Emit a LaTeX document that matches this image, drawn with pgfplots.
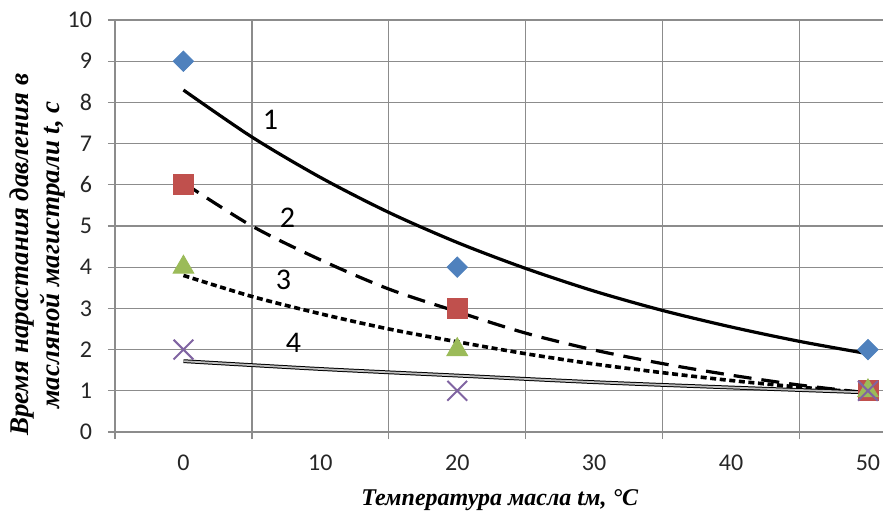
\documentclass[border=0pt]{standalone}
\usepackage{fontspec}
\setmainfont{Carlito}
\newfontfamily\tnr{Liberation Serif}
\usepackage{pgfplots}
\pgfplotsset{compat=1.18}
\definecolor{sblue}{HTML}{4F81BD}
\definecolor{sred}{HTML}{C0504D}
\definecolor{sgreen}{HTML}{9BBB59}
\definecolor{spurple}{HTML}{8064A2}
\definecolor{gridc}{HTML}{8C8C8C}
\begin{document}
\begin{tikzpicture}
\begin{axis}[
  scale only axis, width=384pt, height=206pt,
  xmin=-5, xmax=51.1, ymin=0, ymax=10,
  axis lines*=left, axis line style={draw=gridc, line width=0.6pt},
  xtick={-5,5,...,45}, xticklabels={},
  extra x ticks={0,10,20,30,40,50},
  extra x tick labels={0,10,20,30,40,50},
  extra x tick style={grid=none, major tick length=0pt, tick label style={yshift=-8pt}},
  ytick={0,1,...,10},
  yticklabel style={xshift=-4.5pt},
  grid=major, major grid style={draw=gridc, line width=0.6pt},
  tick align=outside, major tick length=3.5pt,
  tick style={draw=gridc, line width=0.6pt},
  /pgf/number format/assume math mode=true,
  tick label style={font=\fontsize{12}{14}\selectfont, text=black!85},
  every axis x label/.style={at={(axis description cs:0.501,-0.165)}, anchor=center, font=\fontsize{12}{15}\selectfont},
  every axis y label/.style={at={(axis description cs:-0.101,0.43)}, anchor=center, rotate=90, font=\fontsize{13.5}{15.5}\selectfont, align=center},
  xlabel={\tnr\bfseries\itshape Температура масла tм, °С},
  ylabel={\tnr\bfseries\itshape Время нарастания давления в\\ \tnr\bfseries\itshape масляной магистрали t, с},
  clip=false,
]
\coordinate (O) at (rel axis cs:0,0);
% data points
\addplot[only marks, mark=square*, mark size=3.6pt, mark options={rotate=45, fill=sblue, draw=sblue}] coordinates {(0,9) (20,4) (50,2)};
\addplot[only marks, mark=square*, mark size=5pt, mark options={fill=sred, draw=sred}] coordinates {(0,6) (20,3) (50,1)};
\addplot[only marks, mark=triangle*, mark size=6pt, mark options={fill=sgreen, draw=sgreen}] coordinates {(0,4) (20,2) (50,1)};
\addplot[only marks, mark=x, mark size=7pt, mark options={draw=spurple, line width=1pt}] coordinates {(0,2) (20,1) (50,1)};
% trend curves
\addplot[black, line width=1.6pt, smooth, no marks] coordinates {
(0,8.30) (5,7.16) (10,6.18) (15,5.33) (20,4.60) (25,3.97) (30,3.42) (35,2.95) (40,2.55) (45,2.20) (50,1.90)};
\addplot[black, line width=1.6pt, smooth, no marks, dash pattern=on 9pt off 5pt] coordinates {
(0,6.05) (5,5.00) (10,4.18) (15,3.47) (20,2.92) (25,2.40) (30,1.99) (35,1.66) (40,1.38) (45,1.14) (50,0.95)};
\addplot[black, line width=1.8pt, smooth, no marks, dash pattern=on 3pt off 1.8pt] coordinates {
(0,3.80) (5,3.29) (10,2.87) (15,2.50) (20,2.19) (25,1.90) (30,1.65) (35,1.44) (40,1.25) (45,1.09) (50,0.95)};
\addplot[black, line width=0.5pt, double=gray!50, double distance=0.9pt, smooth, no marks] coordinates {
(0,1.72) (10,1.53) (20,1.37) (30,1.21) (40,1.08) (50,0.96)};
% curve numbers
\node[font=\fontsize{15}{15}\selectfont] at (axis cs:6.35,7.57) {1};
\node[font=\fontsize{15}{15}\selectfont] at (axis cs:7.6,5.2) {2};
\node[font=\fontsize{15}{15}\selectfont] at (axis cs:7.3,3.69) {3};
\node[font=\fontsize{15}{15}\selectfont] at (axis cs:8.03,2.16) {4};
\end{axis}
\pgfresetboundingbox
\path[use as bounding box] ([xshift=-57.5pt,yshift=-42pt]O) rectangle ++(441.5pt,258pt);
\end{tikzpicture}
\end{document}
